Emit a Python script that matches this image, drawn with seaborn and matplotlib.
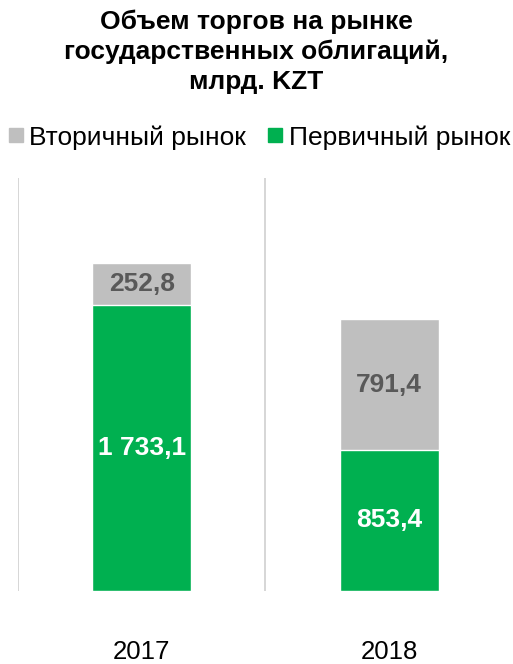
import matplotlib
matplotlib.use("Agg")
import matplotlib.pyplot as plt
from matplotlib.lines import Line2D
import seaborn as sns
import pandas as pd

years = ["2017", "2018"]
primary = [1733.1, 853.4]
secondary = [252.8, 791.4]
primary_labels = ["1 733,1", "853,4"]
secondary_labels = ["252,8", "791,4"]

df = pd.DataFrame({"Year": years, "primary": primary, "secondary": secondary})
df["total"] = df["primary"] + df["secondary"]

sns.set_style("white")
plt.rcParams["font.family"] = ["Liberation Sans", "DejaVu Sans"]

green = "#00B050"
gray = "#BFBFBF"

fig = plt.figure(figsize=(5.13, 6.64), dpi=100)
ax = fig.add_axes([0.035, 0.110, 0.965, 0.622])

sns.barplot(data=df, x="Year", y="total", color=gray, width=0.4, ax=ax, saturation=1)
sns.barplot(data=df, x="Year", y="primary", color=green, width=0.4, ax=ax, saturation=1)

ax.set_xlim(-0.5, 1.5)
ax.set_ylim(0, 2500)
for xv in [-0.5, 0.5]:
    ax.axvline(xv, color="#D0D0D0", lw=1.2, zorder=0)
for s in ax.spines.values():
    s.set_visible(False)
ax.set_yticks([])
ax.set_xlabel("")
ax.set_ylabel("")
ax.tick_params(axis="x", length=0, pad=35, labelsize=18.5, labelcolor="black")

for i in range(len(years)):
    ax.text(i, primary[i] / 2, primary_labels[i], ha="center", va="center",
            color="white", fontsize=19, fontweight="bold")
    ax.text(i, primary[i] + secondary[i] / 2, secondary_labels[i], ha="center", va="center",
            color="#595959", fontsize=19, fontweight="bold")

fig.text(0.5, 0.985, "Объем торгов на рынке\nгосударственных облигаций,\nмлрд. KZT",
         ha="center", va="top", fontsize=19, fontweight="bold", linespacing=1.28,
         color="black")

handles = [
    Line2D([], [], marker="s", color=gray, linestyle="", markersize=10),
    Line2D([], [], marker="s", color=green, linestyle="", markersize=10),
]
fig.legend(handles, ["Вторичный рынок", "Первичный рынок"], loc="center",
           bbox_to_anchor=(0.5, 0.793), ncol=2, frameon=False, fontsize=19,
           handletextpad=0.0, columnspacing=0.6, handlelength=1.0,
           labelcolor="black")

fig.savefig("out.png", dpi=100)
